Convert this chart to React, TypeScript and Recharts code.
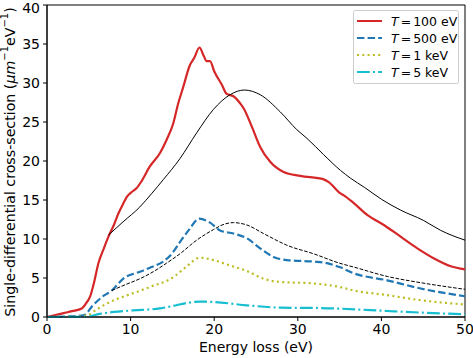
import { LineChart, Line, XAxis, YAxis, ReferenceArea } from 'recharts';

// Energy loss (eV) vs single-differential cross-section
const t100eV: [number, number][] = [
  [0, 0], [1, 0.25], [2, 0.5], [3, 0.75], [4.15, 1.1], [4.7, 1.8], [5.15, 2.6], [5.6, 4.3],
  [6.15, 6.9], [6.8, 8.8], [7.35, 10.3], [8, 11.8], [8.55, 13.3], [9.1, 14.5], [9.55, 15.4],
  [10.1, 16], [10.7, 16.5], [11.3, 17.4], [12.3, 19.3], [13.5, 21], [14.3, 22.7], [15.1, 24.8],
  [15.7, 27.4], [16.3, 29.5], [17.1, 32.3], [17.6, 33.2], [18.24, 34.55], [18.7, 33.6],
  [19.1, 32.8], [19.5, 32.8], [20, 31.5], [20.9, 29.8], [21.5, 28.6], [22.3, 28.3], [23.1, 27.4],
  [23.5, 26.8], [24.5, 24.4], [25.5, 21.8], [26.7, 19.9], [28.3, 18.6], [30.3, 18.1],
  [33.1, 17.65], [33.7, 17.3], [35.1, 15.85], [35.5, 15.6], [36.7, 14.6], [38.3, 13.1],
  [40.3, 11.8], [42.3, 10.3], [44.3, 8.8], [46.3, 7.5], [48.3, 6.5], [50, 6.1],
];

const t500eV: [number, number][] = [
  [0, 0], [2, 0.05], [4.35, 0.2], [5.5, 1.5], [6.5, 2.5], [7.75, 3.4], [9.1, 4.9], [11.1, 5.8],
  [12.5, 6.4], [13.9, 7.1], [15, 8.2], [15.9, 9.6], [17, 11.2], [18.2, 12.6], [19.5, 12.1],
  [20.7, 11.1], [22.3, 10.7], [23.9, 10.1], [25.5, 8.8], [27.1, 7.7], [28.7, 7.3], [31.9, 7.1],
  [33.5, 6.9], [35, 6.4], [36.7, 5.6], [40.7, 4.7], [44.7, 3.65], [50, 2.66],
];

const t1keV: [number, number][] = [
  [0, 0], [3, 0.02], [4.75, 0.2], [6, 1], [7.1, 1.7], [9.1, 2.6], [10.7, 3.2], [12.3, 3.85],
  [15.1, 5.1], [16.5, 6.3], [18.3, 7.6], [19.9, 7.3], [21.9, 6.6], [23.9, 5.9], [25.9, 4.9],
  [27.9, 4.5], [31.9, 4.3], [35, 3.85], [36.7, 3.4], [40.7, 2.8], [44.7, 2.15], [50, 1.6],
];

const t5keV: [number, number][] = [
  [0, 0], [4.5, 0.02], [6.3, 0.4], [8, 0.65], [10.3, 0.85], [13.5, 1.1], [15, 1.4], [16.7, 1.8],
  [18.3, 1.97], [19.9, 1.93], [23.9, 1.5], [27.9, 1.2], [32.7, 1.15], [35, 1.07], [40.7, 0.77],
  [45, 0.55], [50, 0.35],
];

// reference curves (no legend entry)
const refSolid: [number, number][] = [
  [7.35, 10.5], [9.1, 12.2], [11.1, 14.1], [12.5, 15.8], [13.9, 17.6], [15.9, 20.3], [17.9, 23.6],
  [19.9, 26.6], [21.9, 28.5], [23.6, 29.1], [25.5, 28.5], [27.9, 26.3], [29.9, 24], [31.1, 22.9],
  [33.1, 20.8], [35.1, 18.8], [36.3, 17.8], [38, 16.6], [40, 15.1], [42.3, 13.7], [45, 12.4],
  [47.1, 11.1], [50, 9.85],
];

const refDashed: [number, number][] = [
  [7.75, 3.4], [9.5, 4.2], [11.1, 4.9], [12.7, 5.8], [14.3, 6.9], [15.9, 8.1], [17.9, 9.85],
  [19.9, 11.2], [21.2, 11.9], [22.3, 12.1], [23.9, 11.8], [25.9, 10.7], [28.7, 9.2], [31.9, 8.1],
  [35, 6.9], [36.7, 6.4], [40.7, 5.2], [44.7, 4.4], [50, 3.55],
];

const xTicks = [0, 10, 20, 30, 40, 50];
const yTicks = [0, 5, 10, 15, 20, 25, 30, 35, 40];

const toPoints = (pts: [number, number][]) => pts.map(([x, y]) => ({ x, y }));

const series = [
  { key: '100', label: '100 eV', data: t100eV, color: '#d62728', dash: undefined },
  { key: '500', label: '500 eV', data: t500eV, color: '#1f77b4', dash: '7.4 3.2' },
  { key: '1k', label: '1 keV', data: t1keV, color: '#bcbd22', dash: '2 3.3' },
  { key: '5k', label: '5 keV', data: t5keV, color: '#17becf', dash: '12.8 3.2 2 3.2' },
];

const FONT = '"DejaVu Sans", sans-serif';

const YLabel = () => (
  <text
    x={10}
    y={162}
    transform="rotate(-90, 10, 162)"
    textAnchor="middle"
    dominantBaseline="central"
    fontSize={14.2}
    fontFamily={FONT}
    fill="#000"
  >
    Single-differential cross-section (
    <tspan fontStyle="italic">μm</tspan>
    <tspan dy={-6} fontSize={10}>−1</tspan>
    <tspan dy={6}>eV</tspan>
    <tspan dy={-6} fontSize={10}>−1</tspan>
    <tspan dy={6}>)</tspan>
  </text>
);

const XLabel = () => (
  <text x={256} y={352} textAnchor="middle" fontSize={14} fontFamily={FONT} fill="#000">
    Energy loss (eV)
  </text>
);

const LegendBox = () => (
  <svg width={106} height={74} style={{ display: 'block' }}>
    <rect x={0.5} y={0.5} width={105} height={73} rx={2} fill="#fff" fillOpacity={0.8} stroke="#ccc" />
    {series.map((s, i) => {
      const cy = 11 + i * 17;
      return (
        <g key={s.key}>
          <line x1={4} x2={29} y1={cy} y2={cy} stroke={s.color} strokeWidth={2} strokeDasharray={s.dash} />
          <text x={38} y={cy} dominantBaseline="central" fontSize={12.5} fontFamily={FONT} fill="#000">
            <tspan fontStyle="italic">T</tspan>
            <tspan dx={2}>=</tspan>
            <tspan dx={2}>{s.label}</tspan>
          </text>
        </g>
      );
    })}
  </svg>
);

export default function App() {
  return (
    <div style={{ position: 'absolute', left: 0, top: 0, width: 473, height: 358, background: '#fff' }}>
      <LineChart
        width={473}
        height={358}
        margin={{ top: 5, right: 8, left: 0, bottom: 0 }}
        style={{ fontFamily: FONT }}
      >
        <XAxis
          dataKey="x"
          type="number"
          domain={[0, 50]}
          ticks={xTicks}
          allowDuplicatedCategory={false}
          height={41}
          tickSize={4}
          tickMargin={3}
          tick={{ fill: '#000', fontSize: 14 }}
          axisLine={{ stroke: '#000' }}
          tickLine={{ stroke: '#000' }}
          label={{ content: () => <XLabel /> }}
        />
        <YAxis
          dataKey="y"
          type="number"
          domain={[0, 40]}
          ticks={yTicks}
          width={47}
          tickSize={4}
          tickMargin={3}
          tick={{ fill: '#000', fontSize: 14 }}
          axisLine={{ stroke: '#000' }}
          tickLine={{ stroke: '#000' }}
          label={{ content: () => <YLabel /> }}
        />
        {series.map((s) => (
          <Line
            key={s.key}
            data={toPoints(s.data)}
            dataKey="y"
            type="monotone"
            stroke={s.color}
            strokeWidth={2.2}
            strokeDasharray={s.dash}
            dot={false}
            isAnimationActive={false}
          />
        ))}
        <Line
          data={toPoints(refSolid)}
          dataKey="y"
          type="monotone"
          stroke="#000"
          strokeWidth={1}
          dot={false}
          isAnimationActive={false}
        />
        <Line
          data={toPoints(refDashed)}
          dataKey="y"
          type="monotone"
          stroke="#000"
          strokeWidth={1}
          strokeDasharray="3.7 1.6"
          dot={false}
          isAnimationActive={false}
        />
        <ReferenceArea x1={0} x2={50} y1={0} y2={40} fill="none" stroke="#000" strokeWidth={1} ifOverflow="visible" />
      </LineChart>
      <div style={{ position: 'absolute', top: 10, left: 353 }}>
        <LegendBox />
      </div>
    </div>
  );
}
